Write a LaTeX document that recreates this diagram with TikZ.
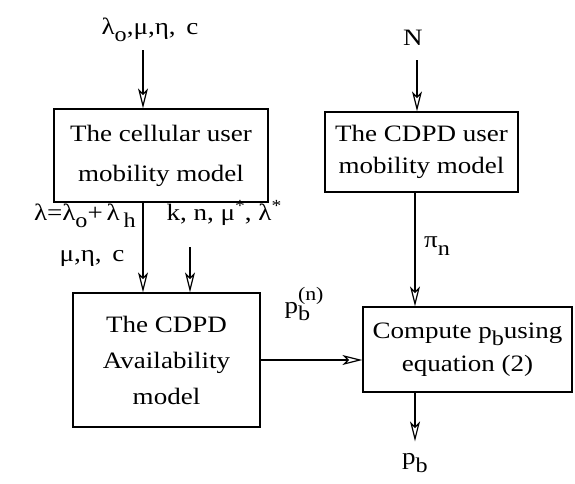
\documentclass[tikz,border=0pt]{standalone}
\usepackage{fontspec}
\setmainfont{Liberation Serif}[FakeStretch=1.15]
\usetikzlibrary{arrows.meta}

\newcommand{\lo}[1]{\raisebox{-0.7ex}{\fontsize{21}{21}\selectfont #1}}
\newcommand{\hi}[1]{\raisebox{0.9ex}{\fontsize{17}{17}\selectfont #1}}

\begin{document}
\begin{tikzpicture}[x=1pt, y=-1pt,
        model/.style={draw, line width=1.3pt, align=center, inner sep=0pt},
        lbl/.style={inner sep=0pt, font=\fontsize{23.5}{26}\selectfont},
        flow/.style={-{Stealth[open, length=20pt, width=10pt, inset=5pt]}, line width=1.2pt}
    ]
        \useasboundingbox (0,0) rectangle (575,483);

        \node[model, minimum width=214pt, minimum height=93pt, font=\fontsize{23.5}{40}\selectfont] (cell) at (161,155.5) {The cellular user\\mobility model};
        \node[model, minimum width=187pt, minimum height=134pt, font=\fontsize{23.5}{36}\selectfont] (avail) at (166.5,360) {The CDPD\\Availability\\model};
        \node[model, minimum width=193pt, minimum height=80pt, font=\fontsize{23.5}{32}\selectfont] (cdpd) at (421.5,152) {The CDPD user\\mobility model};
        \node[model, minimum width=209pt, minimum height=85pt, font=\fontsize{23.5}{33}\selectfont] (comp) at (467.5,349.5) {Compute p\lo{b}using\\equation (2)};

        \node[lbl] (inA) at (150,30) {λ\lo{o},μ,η,\, c};
        \node[lbl] (inN) at (413,38) {N};
        \node[lbl, anchor=east] (lam) at (136,216) {λ=λ\lo{o}+\,λ\,\lo{h}};
        \node[lbl] (mec) at (92,258) {μ,η,\, c};
        \node[lbl] (kn) at (224,213) {k, n, μ\hi{*}, λ\hi{*}};
        \node[lbl, anchor=west] (pin) at (424,246) {π\lo{n}};
        \node[lbl] (pbn) at (304,304) {p\rlap{\lo{b}}\raisebox{1.2ex}{\fontsize{19}{19}\selectfont (n)}};
        \node[lbl] (pb) at (415,463) {p\lo{b}};

        \coordinate (a1) at (143,50);
        \coordinate (a2) at (190,247);
        \coordinate (a3) at (417,60);
        \coordinate (a4) at (415,192);

        \draw[flow] (a1) -- (a1 |- cell.north);
        \draw[flow] (cell.south -| a1) -- (a1 |- avail.north);
        \draw[flow] (a2) -- (a2 |- avail.north);
        \draw[flow] (a3) -- (a3 |- cdpd.north);
        \draw[flow] (cdpd.south -| a4) -- (a4 |- comp.north);
        \draw[flow] (avail.east) -- (avail.east -| comp.west);
        \draw[flow, shorten >=12pt] (comp.south -| a4) -- (a4 |- pb.north);
    \end{tikzpicture}
\end{document}
